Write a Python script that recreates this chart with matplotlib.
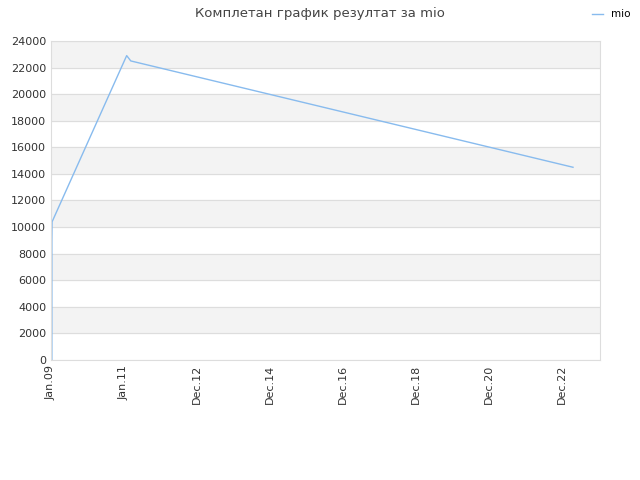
import matplotlib
matplotlib.use("Agg")
import matplotlib.pyplot as plt
import matplotlib.dates as mdates
from datetime import datetime

dates = [datetime(2009, 1, 10), datetime(2009, 1, 10), datetime(2009, 1, 12),
         datetime(2011, 1, 28), datetime(2011, 3, 10), datetime(2023, 4, 20)]
values = [0, 9000, 10400, 22900, 22500, 14500]

tick_dates = [datetime(2009, 1, 1), datetime(2011, 1, 1), datetime(2012, 12, 31),
              datetime(2014, 12, 31), datetime(2016, 12, 31), datetime(2018, 12, 31),
              datetime(2020, 12, 31), datetime(2022, 12, 31)]
tick_labels = ["Jan.09", "Jan.11", "Dec.12", "Dec.14", "Dec.16", "Dec.18", "Dec.20", "Dec.22"]

fig = plt.figure(figsize=(6.4, 4.8), dpi=100)
ax = fig.add_axes([0.0797, 0.25, 0.8578, 0.6646])

for i in range(0, 24000, 2000):
    if (i // 2000) % 2 == 1:
        ax.axhspan(i, i + 2000, color="#f3f3f3", zorder=0)
ax.grid(axis="y", color="#dddddd", linewidth=0.8)
ax.set_axisbelow(True)

ax.plot(dates, values, color="#88bbee", linewidth=1)
ax.set_ylim(0, 24000)
ax.set_xlim(datetime(2009, 1, 1), datetime(2024, 1, 15))
ax.set_yticks(range(0, 24001, 2000))
ax.set_xticks(tick_dates)
ax.set_xticklabels(tick_labels, rotation=90)
ax.tick_params(labelsize=8, colors="#333333", length=0)
for s in ax.spines.values():
    s.set_color("#dddddd")

fig.suptitle("Комплетан график резултат за mio", fontsize=9.5, color="#444444", y=0.985)
fig.legend(handles=ax.lines, labels=["mio"], loc="upper right", frameon=False,
           fontsize=7.5, bbox_to_anchor=(1.0, 1.0), handlelength=1)
fig.savefig("out.png", dpi=100)
